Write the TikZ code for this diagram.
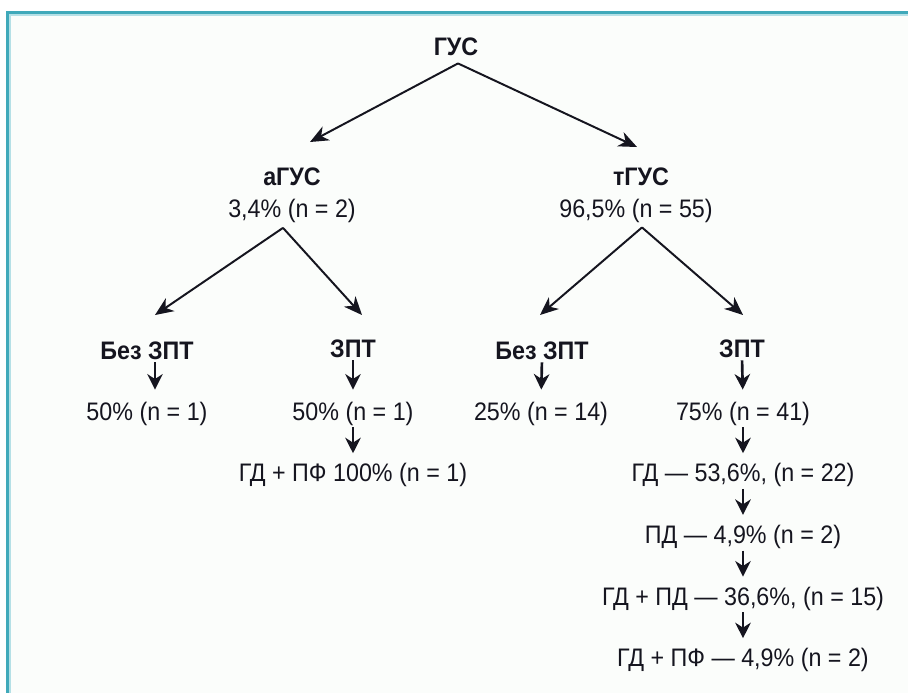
\documentclass[tikz,border=0pt]{standalone}
\usepackage{fontspec}
\setmainfont{Liberation Sans}[FakeStretch=0.92]
\usetikzlibrary{
  arrows.meta,
  positioning,  % Function "of" (e.g. [below=of x])
}
\definecolor{frame}{HTML}{3FA9BA}
\definecolor{framelight}{HTML}{B5E0E6}
\definecolor{paper}{HTML}{FBFDFB}
\definecolor{ink}{HTML}{15151F}
\def\myvdist{1.07cm}
\def\mypdist{0.34cm}
\tikzset{
  font=\fontsize{18}{20}\selectfont,
  txt/.style={
    text=ink,
    inner sep=0pt,
    text height=13pt,
    text depth=0pt
  },
  head/.style={
    txt,
    font=\fontsize{18}{20}\selectfont\bfseries
  },
  split/.style={
    -{Stealth[length=13pt,width=11pt,inset=4pt]},
    draw=ink,
    line width=1.4pt
  },
  drop/.style={
    -{Stealth[length=11pt,width=11pt,inset=3.5pt]},
    draw=ink,
    line width=1.9pt,
    shorten <=0.17cm,
    shorten >=0.25cm
  },
  drop first/.style={
    drop,
    shorten <=0.075cm,
    shorten >=0.3cm
  }
}
\begin{document}
\begin{tikzpicture}[x=0.025cm,y=-0.025cm]
\useasboundingbox (0,0) rectangle (908,693);
% frame
\fill[white] (0,0) rectangle (908,693);
\fill[paper] (9,14) rectangle (908,693);
\fill[frame] (6,11) rectangle (908,14);
\fill[frame] (6,11) rectangle (9,693);
\fill[framelight] (9,14) rectangle (908,15.5);
\fill[framelight] (9,14) rectangle (10.5,693);

% top levels
\node[head] (gus) at (456,46) {ГУС};
\node[head] (agus) at (292,176) {аГУС};
\node[txt, below=\mypdist of agus] (apct) {3,4\% (n = 2)};
\node[head] (tgus) at (641,176) {тГУС};
\node[txt] (tpct) at (636,208) {96,5\% (n = 55)};

% therapy split
\node[head] (abez) at (147,350) {Без ЗПТ};
\node[head] (azpt) at (353,348) {ЗПТ};
\node[head] (tbez) at (542,350) {Без ЗПТ};
\node[head] (tzpt) at (742,348) {ЗПТ};

\node[txt] (abezpct) at (147,411) {50\% (n = 1)};
\node[txt] (azptpct) at (353,411) {50\% (n = 1)};
\node[txt, below=\myvdist of azptpct] (azptgd) {ГД + ПФ 100\% (n = 1)};
\node[txt] (tbezpct) at (541,411) {25\% (n = 14)};
\node[txt] (tzptpct) at (743,411) {75\% (n = 41)};
\node[txt, below=\myvdist of tzptpct] (tgd) {ГД — 53,6\%, (n = 22)};
\node[txt, below=\myvdist of tgd] (tpd) {ПД — 4,9\% (n = 2)};
\node[txt, below=\myvdist of tpd] (tgdpd) {ГД + ПД — 36,6\%, (n = 15)};
\node[txt, below=\myvdist of tgdpd] (tgdpf) {ГД + ПФ — 4,9\% (n = 2)};

% fork points and arrow tips
\coordinate (gfork) at ([xshift=0.05cm,yshift=-0.2cm]gus.south);
\coordinate (afork) at ([xshift=-0.225cm,yshift=-0.25cm]apct.south);
\coordinate (tfork) at ([xshift=0.15cm,yshift=-0.25cm]tpct.south);
\coordinate (agustip) at (310,142);
\coordinate (tgustip) at (637,147);
\coordinate (abeztip) at (155,315);
\coordinate (azpttip) at (362,315);
\coordinate (tbeztip) at (540,315);
\coordinate (tzpttip) at (743,315);

\draw[split] (gfork) -- (agustip);
\draw[split] (gfork) -- (tgustip);
\draw[split] (afork) -- (abeztip);
\draw[split] (afork) -- (azpttip);
\draw[split] (tfork) -- (tbeztip);
\draw[split] (tfork) -- (tzpttip);

\draw[drop first] ([xshift=0.2cm]abez.south) -- ([xshift=0.2cm]abezpct.north);
\draw[drop first] (azpt.south) -- (azptpct.north);
\draw[drop] (azptpct.south) -- (azptgd.north);
\draw[drop first] (tbez.south) -- (tbezpct.north);
\draw[drop first] (tzpt.south) -- (tzptpct.north);
\draw[drop] (tzptpct.south) -- (tgd.north);
\draw[drop] (tgd.south) -- (tpd.north);
\draw[drop] (tpd.south) -- (tgdpd.north);
\draw[drop] (tgdpd.south) -- (tgdpf.north);
\end{tikzpicture}
\end{document}
